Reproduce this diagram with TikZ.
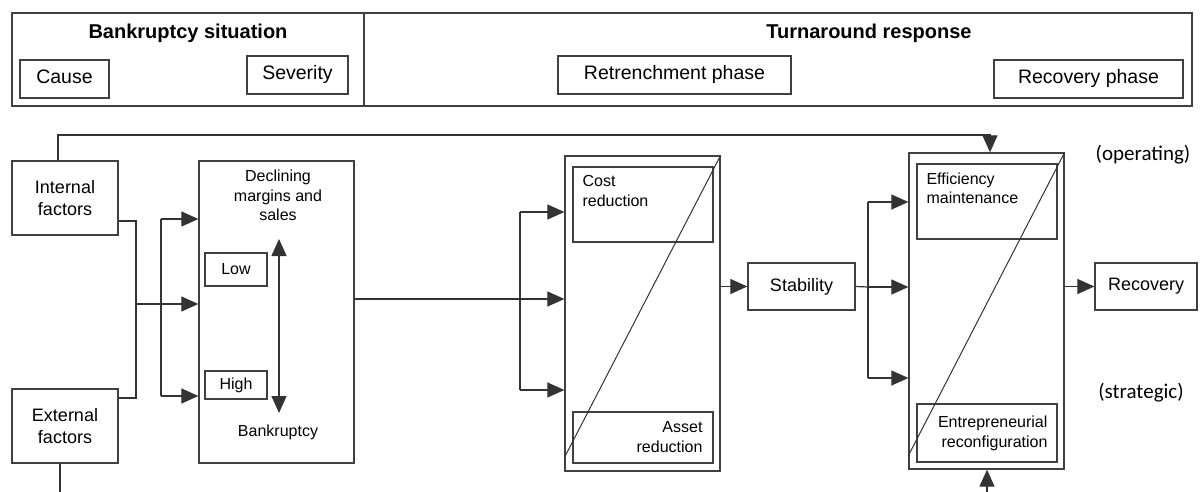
\documentclass[tikz,border=0pt]{standalone}
\usepackage{fontspec}
\setmainfont{Liberation Sans}
\newfontfamily\calibri{Carlito}
\usetikzlibrary{arrows.meta,positioning}

\tikzset{
  box/.style={draw=black!75, line width=1.3pt, inner sep=0pt},
  hdr/.style={font=\fontsize{20}{24}\selectfont\bfseries},
  htxt/.style={font=\fontsize{19.5}{23}\selectfont, text height=14pt, text depth=4pt},
  btxt/.style={font=\fontsize{18}{22.5}\selectfont, align=center},
  stxt/.style={font=\fontsize{16}{19.5}\selectfont, inner sep=0pt},
  note/.style={font=\calibri\fontsize{21}{25}\selectfont},
  link/.style={draw=black!80, line width=1.2pt},
  arr/.style={link, -{Triangle[length=17pt,width=15pt]}},
  darr/.style={link, {Triangle[length=17pt,width=15pt]}-{Triangle[length=17pt,width=15pt]}},
}

\begin{document}
\begin{tikzpicture}[x=1pt,y=-1pt]
\useasboundingbox (0,0) rectangle (1201,492);

% header band
\node[box, minimum width=352, minimum height=93] (sit) at (188,59.5) {};
\node[box, minimum width=828, minimum height=93] (resp) at (778,59.5) {};
\node[hdr] (sittl) at (188,33) {Bankruptcy situation};
\node[hdr] (resptl) at (869,33) {Turnaround response};
\node[box, htxt, minimum width=89, minimum height=38] (cause) at (64.5,79) {Cause};
\node[box, htxt, minimum width=101, minimum height=38] (sev) at (297.5,75) {Severity};
\node[box, htxt, minimum width=233, minimum height=38] (retrph) at (674.5,75) {Retrenchment phase};
\node[box, htxt, minimum width=189, minimum height=38] (recovph) at (1088.5,79) {Recovery phase};

% causes
\node[box, btxt, minimum width=106, minimum height=74] (intf) at (65,198) {Internal\\factors};
\node[box, btxt, minimum width=106, minimum height=74] (extf) at (65,426) {External\\factors};

% severity
\node[box, minimum width=155, minimum height=302] (decl) at (276.5,312) {};
\node[stxt, align=center, anchor=north] (decltxt) at (278,170) {Declining\\margins and\\sales};
\node[box, stxt, minimum width=62, minimum height=33] (low) at (236,269.5) {Low};
\node[box, stxt, minimum width=62, minimum height=28] (high) at (236,385) {High};
\node[stxt] (bankr) at (278,432) {Bankruptcy};
\coordinate (sevtop) at (279,239);
\coordinate (sevbot) at (279,413);
\draw[darr] (sevtop) -- (sevbot);

% retrenchment
\node[box, minimum width=155, minimum height=315] (retr) at (642.5,313.5) {};
\node[box, minimum width=140, minimum height=75] (cost) at (643,204.5) {};
\node[box, minimum width=140, minimum height=51] (asset) at (643,437.5) {};
\node[stxt, align=left, anchor=north west] (costtxt) at ([shift={(10pt,-9pt)}]cost.north west) {Cost\\reduction};
\node[stxt, align=right, anchor=south east] (assettxt) at ([shift={(-11pt,11pt)}]asset.south east) {Asset\\reduction};
\draw[link, line width=1pt] ([yshift=14pt]retr.south west) -- (retr.north east);

\node[box, btxt, minimum width=107, minimum height=47] (stab) at (801.5,286.5) {Stability};

% recovery
\node[box, minimum width=155, minimum height=316] (recph) at (986.5,311) {};
\node[box, minimum width=140, minimum height=75] (effm) at (987,201.5) {};
\node[box, minimum width=140, minimum height=58] (entr) at (987,433) {};
\node[stxt, align=left, anchor=north west] (effmtxt) at ([shift={(10pt,-9pt)}]effm.north west) {Efficiency\\maintenance};
\node[stxt, align=right, anchor=south east] (entrtxt) at ([shift={(-10pt,12pt)}]entr.south east) {Entrepreneurial\\reconfiguration};
\draw[link, line width=1pt] ([yshift=14pt]recph.south west) -- (recph.north east);

\node[box, btxt, minimum width=102, minimum height=47] (reco) at (1146,286.5) {Recovery};

\node[note] (oper) at (1143,155) {(operating)};
\node[note] (strat) at (1141,393) {(strategic)};

% causes into severity
\coordinate (jA) at (136,304);
\coordinate (bA1) at (161,219);
\coordinate (bA3) at (161,396);
\draw[link] ([yshift=-23pt]intf.east) -| (jA) |- ([yshift=28pt]extf.east);
\draw[link] (bA1) -- (bA3);
\draw[arr] (jA) -- (jA -| decl.west);
\draw[arr] (bA1) -- (bA1 -| decl.west);
\draw[arr] (bA3) -- (bA3 -| decl.west);

% severity into retrenchment
\coordinate (dout) at ([yshift=13pt]decl.east);
\coordinate (bB1) at (520,212);
\coordinate (bB3) at (520,390);
\draw[arr] (dout) -- (dout -| retr.west);
\draw[link] (bB1) -- (bB3);
\draw[arr] (bB1) -- (bB1 -| retr.west);
\draw[arr] (bB3) -- (bB3 -| retr.west);

\draw[arr] (retr.east |- stab.west) -- (stab.west);

% stability into recovery
\coordinate (jC) at (868,287);
\coordinate (bC1) at (868,202);
\coordinate (bC3) at (868,378);
\draw[link] (stab.east) -- (jC);
\draw[link] (bC1) -- (bC3);
\draw[arr] (jC) -- (jC -| recph.west);
\draw[arr] (bC1) -- (bC1 -| recph.west);
\draw[arr] (bC3) -- (bC3 -| recph.west);

\draw[arr] (recph.east |- reco.west) -- (reco.west);

% feedback from causes to recovery
\coordinate (fbtop) at (990,135);
\coordinate (fbin) at (987,492);
\coordinate (fbout) at (60,492);
\draw[arr] ([xshift=-7pt]intf.north) |- (fbtop) -- (fbtop |- recph.north);
\draw[link] ([xshift=-5pt]extf.south) -- (fbout);
\draw[arr] (fbin) -- (recph.south -| fbin);
\end{tikzpicture}
\end{document}
